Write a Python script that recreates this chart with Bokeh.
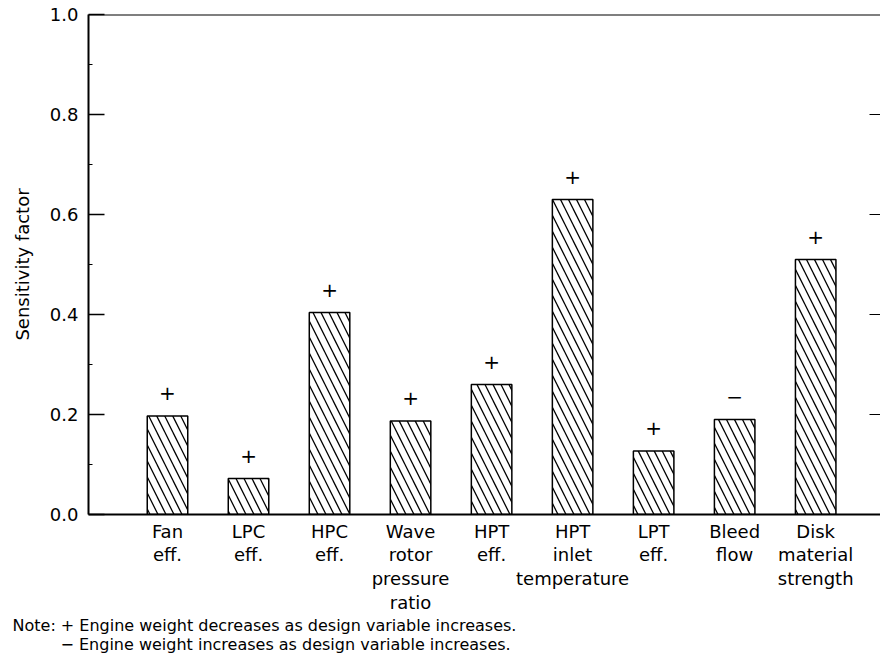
from bokeh.plotting import figure
from bokeh.models import Range1d, LinearAxis, FixedTicker, Span, Title, NumeralTickFormatter
from bokeh.core.properties import value
from bokeh.embed import file_html
from bokeh.resources import INLINE

# ---- data ----
categories = ["Fan\neff.", "LPC\neff.", "HPC\neff.", "Wave\nrotor\npressure\nratio",
              "HPT\neff.", "HPT\ninlet\ntemperature", "LPT\neff.", "Bleed\nflow",
              "Disk\nmaterial\nstrength"]
sensitivity = [0.197, 0.072, 0.404, 0.187, 0.260, 0.630, 0.127, 0.190, 0.510]
signs = ["+", "+", "+", "+", "+", "+", "+", "\u2212", "+"]
y_ticks = [0.0, 0.2, 0.4, 0.6, 0.8, 1.0]
y_minor_ticks = [0.1, 0.3, 0.5, 0.7, 0.9]
y_label = "Sensitivity factor"
note_lines = ["Note: + Engine weight decreases as design variable increases.",
              "\u2212 Engine weight increases as design variable increases."]

FONT = "DejaVu Sans"
xs = list(range(1, len(categories) + 1))

p = figure(width=880, height=653, x_range=Range1d(0.025, 9.80), y_range=Range1d(0, 1.0),
           output_backend="svg", toolbar_location=None,
           min_border_left=88, min_border_right=0, min_border_top=14, min_border_bottom=20)
p.outline_line_color = None
p.grid.grid_line_color = None
p.background_fill_color = "white"

# x axis with multi-line category labels
xa = p.xaxis[0]
xa.ticker = FixedTicker(ticks=xs)
xa.major_label_overrides = {x: c for x, c in zip(xs, categories)}
xa.major_tick_in = 0
xa.major_tick_out = 0
xa.minor_tick_line_color = None
xa.axis_line_width = 2
xa.major_label_standoff = 6
xa.major_label_text_font = FONT
xa.major_label_text_font_size = "18px"
xa.major_label_text_line_height = 1.13
xa.major_label_text_color = "black"

# left y axis
ya = p.yaxis[0]
ya.ticker = FixedTicker(ticks=y_ticks, minor_ticks=y_minor_ticks)
ya.formatter = NumeralTickFormatter(format="0.0")
ya.major_tick_in = 16
ya.major_tick_out = 0
ya.minor_tick_in = 4
ya.minor_tick_out = 0
ya.major_tick_line_width = 1.5
ya.axis_line_width = 2
ya.major_label_standoff = 10
ya.major_label_text_font = FONT
ya.major_label_text_font_size = "18px"
ya.major_label_text_color = "black"
ya.axis_label = y_label
ya.axis_label_text_font = FONT
ya.axis_label_text_font_size = "18px"
ya.axis_label_text_font_style = "normal"
ya.axis_label_text_color = "black"
ya.axis_label_standoff = 14

# right side ticks only (no labels)
ra = LinearAxis(ticker=FixedTicker(ticks=y_ticks[1:-1]), axis_line_color=None,
                major_tick_in=11, major_tick_out=0, minor_tick_line_color=None,
                major_label_standoff=0)
ra.major_label_overrides = {t: "" for t in y_ticks[1:-1]}
p.add_layout(ra, "right")

# top line
p.add_layout(Span(location=1.0, dimension="width", line_color="black", line_width=2))

# bars
p.vbar(x=xs, top=sensitivity, bottom=0, width=0.5, fill_color="white",
       line_color="black", line_width=1.5, hatch_pattern="left_diagonal_line",
       hatch_color="black", hatch_scale=16, hatch_weight=1.3)

# signs above bars
p.text(x=xs, y=sensitivity, text=signs, y_offset=-23, text_align="center",
       text_baseline="middle", text_font_size="20px", text_font=value(FONT),
       text_color="black")

# note (as titles below the x axis)
offsets = [-76, -28]
standoffs = [-3, -1]
for line, off, so in zip(note_lines, offsets, standoffs):
    p.add_layout(Title(text=line, align="left", offset=off, standoff=so,
                       text_font=FONT, text_font_size="16px", text_font_style="normal",
                       text_color="black"), "below")

open("out.html", "w").write(file_html(p, INLINE))
